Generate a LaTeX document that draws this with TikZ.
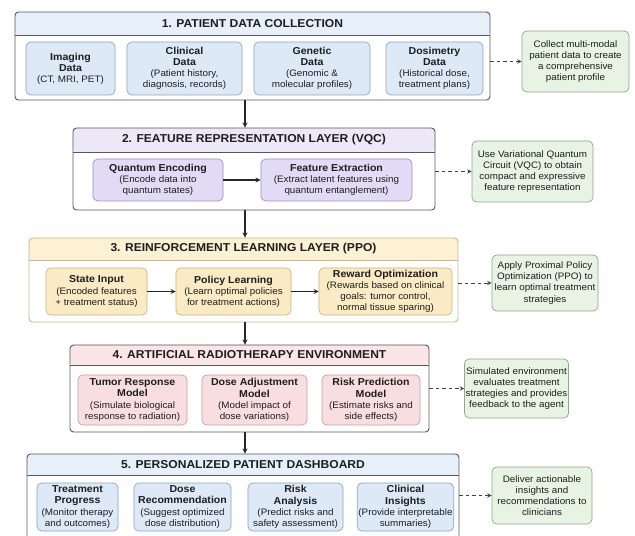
\documentclass[tikz,border=0pt]{standalone}
\usepackage{fontspec}
\setmainfont{Liberation Sans}[FakeStretch=1.05]
\usetikzlibrary{arrows,positioning}
\definecolor{txt}{HTML}{1E1E1E}
\definecolor{secgray}{HTML}{585858}
\definecolor{sectan}{HTML}{C9B88C}
\definecolor{hdblue}{HTML}{E6EFFA}
\definecolor{hdviolet}{HTML}{ECE8F8}
\definecolor{hdyellow}{HTML}{FCF1D3}
\definecolor{hdpink}{HTML}{FBE5E7}
\definecolor{fillblue}{HTML}{DDE9F6}
\definecolor{lineblue}{HTML}{8DA6C0}
\definecolor{fillviolet}{HTML}{E2DBF5}
\definecolor{lineviolet}{HTML}{9A8FC2}
\definecolor{fillyellow}{HTML}{FBEBC5}
\definecolor{lineyellow}{HTML}{CDB47E}
\definecolor{fillpink}{HTML}{F8DEE0}
\definecolor{linepink}{HTML}{C99DA2}
\definecolor{fillgreen}{HTML}{E7F3E3}
\definecolor{linegreen}{HTML}{8EA889}
\tikzset{%
    >=stealth,
    sec/.style n args={3}{draw=#1,fill=white,rounded corners=3pt,line width=.8pt,
        path picture={\fill[#2] (path picture bounding box.north west) rectangle ([yshift=-#3]path picture bounding box.north east);
            \draw[#1,line width=.6pt] ([yshift=-#3]path picture bounding box.north west) -- ([yshift=-#3]path picture bounding box.north east);}},
    ttl/.style={text=txt,font=\fontsize{9.8}{11}\selectfont\bfseries},
    box/.style={rounded corners=4pt,line width=.6pt,align=center,inner sep=1pt,text=txt,font=\fontsize{8}{9.5}\selectfont},
    bluebox/.style={box,fill=fillblue,draw=lineblue},
    violetbox/.style={box,fill=fillviolet,draw=lineviolet},
    yellowbox/.style={box,fill=fillyellow,draw=lineyellow},
    pinkbox/.style={box,fill=fillpink,draw=linepink},
    note/.style={box,fill=fillgreen,draw=linegreen,font=\fontsize{8}{9.5}\selectfont},
    arr/.style={->,line width=.9pt,draw=black!85},
    dasharr/.style={->,line width=.7pt,draw=black!75,dash pattern=on 3pt off 2.5pt}
}
\newcommand{\boxttl}[1]{{\fontsize{8.6}{9.5}\selectfont\bfseries #1}}

\begin{document}
\begin{tikzpicture}[x=0.03cm,y=-0.03cm]
    \clip (0,0) rectangle (635,536);
    \fill[white] (0,0) rectangle (635,536);
    \coordinate (spine) at (245,0);
    %%%%% 1. data collection
    \node[sec={secgray}{hdblue}{0.69cm},minimum width=14.25cm,minimum height=2.64cm] (s1) at (252.5,56) {};
    \node[ttl] (t1) at (252.5,23.5) {1. PATIENT DATA COLLECTION};
    \node[bluebox,minimum width=2.67cm,minimum height=1.59cm] (img) at (70.5,68.5) {\boxttl{Imaging}\\\boxttl{Data}\\(CT, MRI, PET)};
    \node[bluebox,minimum width=3.45cm,minimum height=1.59cm] (cli) at (184.5,68.5) {\boxttl{Clinical}\\\boxttl{Data}\\(Patient history,\\diagnosis, records)};
    \node[bluebox,minimum width=3.48cm,minimum height=1.59cm] (gen) at (312,68.5) {\boxttl{Genetic}\\\boxttl{Data}\\(Genomic \&\\molecular profiles)};
    \node[bluebox,minimum width=2.91cm,minimum height=1.59cm] (dos) at (434.5,68.5) {\boxttl{Dosimetry}\\\boxttl{Data}\\(Historical dose,\\treatment plans)};
    %%%%% 2. feature layer
    \node[sec={secgray}{hdviolet}{0.72cm},minimum width=10.86cm,minimum height=2.46cm] (s2) at (254,169) {};
    \node[ttl] (t2) at (254,140) {2. FEATURE REPRESENTATION LAYER (VQC)};
    \node[violetbox,minimum width=3.9cm,minimum height=1.26cm] (qe) at (158,180) {\boxttl{Quantum Encoding}\\(Encode data into\\quantum states)};
    \node[violetbox,minimum width=4.53cm,minimum height=1.26cm] (fe) at (336.5,180) {\boxttl{Feature Extraction}\\(Extract latent features using\\quantum entanglement)};
    %%%%% 3. reinforcement learning
    \node[sec={sectan}{hdyellow}{0.66cm},minimum width=12.87cm,minimum height=2.52cm] (s3) at (243.5,280) {};
    \node[ttl] (t3) at (243.5,249) {3. REINFORCEMENT LEARNING LAYER (PPO)};
    \node[yellowbox,minimum width=3.03cm,minimum height=1.41cm] (si) at (96.5,291.5) {\boxttl{State Input}\\(Encoded features\\+ treatment status)};
    \node[yellowbox,minimum width=3.45cm,minimum height=1.41cm] (pl) at (233.5,291.5) {\boxttl{Policy Learning}\\(Learn optimal policies\\for treatment actions)};
    \node[yellowbox,minimum width=3.99cm,minimum height=1.41cm] (ro) at (385.5,291.5) {\boxttl{Reward Optimization}\\(Rewards based on clinical\\goals: tumor control,\\normal tissue sparing)};
    %%%%% 4. environment
    \node[sec={secgray}{hdpink}{0.6cm},minimum width=10.77cm,minimum height=2.61cm] (s4) at (249.5,388.5) {};
    \node[ttl] (t4) at (249.5,355) {4. ARTIFICIAL RADIOTHERAPY ENVIRONMENT};
    \node[pinkbox,minimum width=3.27cm,minimum height=1.5cm] (tr) at (132.5,400) {\boxttl{Tumor Response}\\\boxttl{Model}\\(Simulate biological\\response to radiation)};
    \node[pinkbox,minimum width=3.15cm,minimum height=1.5cm] (da) at (254.5,400) {\boxttl{Dose Adjustment}\\\boxttl{Model}\\(Model impact of\\dose variations)};
    \node[pinkbox,minimum width=2.94cm,minimum height=1.5cm] (rp) at (371,400) {\boxttl{Risk Prediction}\\\boxttl{Model}\\(Estimate risks and\\side effects)};
    %%%%% 5. dashboard
    \node[sec={secgray}{hdblue}{0.63cm},minimum width=12.96cm,minimum height=3.18cm] (s5) at (243,507) {};
    \node[ttl] (t5) at (243,464.5) {5. PERSONALIZED PATIENT DASHBOARD};
    \node[bluebox,minimum width=2.43cm,minimum height=1.44cm] (tp) at (77.5,507) {\boxttl{Treatment}\\\boxttl{Progress}\\(Monitor therapy\\and outcomes)};
    \node[bluebox,minimum width=2.91cm,minimum height=1.44cm] (dr) at (182.5,507) {\boxttl{Dose}\\\boxttl{Recommendation}\\(Suggest optimized\\dose distribution)};
    \node[bluebox,minimum width=2.85cm,minimum height=1.44cm] (ra) at (295.5,507) {\boxttl{Risk}\\\boxttl{Analysis}\\(Predict risks and\\safety assessment)};
    \node[bluebox,minimum width=2.85cm,minimum height=1.44cm] (ci) at (405.5,507) {\boxttl{Clinical}\\\boxttl{Insights}\\(Provide interpretable\\summaries)};
    %%%%% notes
    \node[note,minimum width=3.21cm,minimum height=1.83cm] (n1) at (575.5,61.5) {Collect multi-modal\\patient data to create\\a comprehensive\\patient profile};
    \node[note,minimum width=3.63cm,minimum height=1.83cm] (n2) at (532.5,171.5) {Use Variational Quantum\\Circuit (VQC) to obtain\\compact and expressive\\feature representation};
    \node[note,minimum width=3.18cm,minimum height=1.68cm] (n3) at (545,283) {Apply Proximal Policy\\Optimization (PPO) to\\learn optimal treatment\\strategies};
    \node[note,minimum width=3.09cm,minimum height=1.77cm] (n4) at (516.5,388.5) {Simulated environment\\evaluates treatment\\strategies and provides\\feedback to the agent};
    \node[note,minimum width=3cm,minimum height=1.71cm] (n5) at (542,495.5) {Deliver actionable\\insights and\\recommendations to\\clinicians};
    %%%%% arrows
    \draw[arr] (s1.south -| spine) -- (s2.north -| spine);
    \draw[arr] (s2.south -| spine) -- (s3.north -| spine);
    \draw[arr] (s3.south -| spine) -- (s4.north -| spine);
    \draw[arr] (s4.south -| spine) -- (s5.north -| spine);
    \draw[arr] (qe) -- (fe);
    \draw[arr] (si) -- (pl);
    \draw[arr] (pl) -- (ro);
    \draw[dasharr] (s1.east |- n1.west) -- (n1.west);
    \draw[dasharr] (s2.east |- n2.west) -- (n2.west);
    \draw[dasharr] (s3.east |- n3.west) -- (n3.west);
    \draw[dasharr] (s4.east |- n4.west) -- (n4.west);
    \draw[dasharr] (s5.east |- n5.west) -- (n5.west);
\end{tikzpicture}
\end{document}
